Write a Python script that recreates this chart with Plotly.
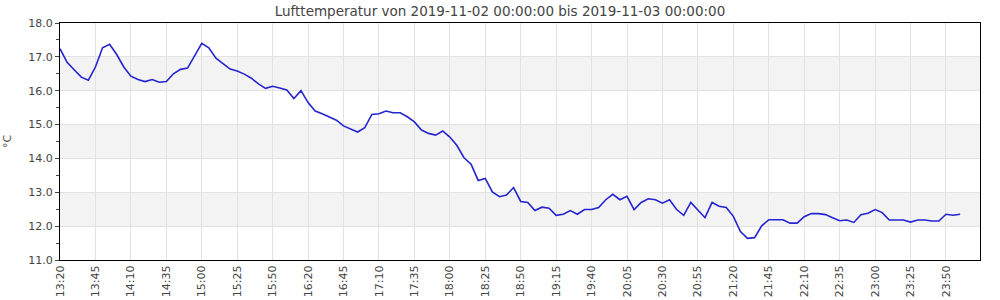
import pandas as pd
import plotly.graph_objects as go

# Time labels (5-minute steps, one timestamp missing between 15:50 and 16:20)
all_times = pd.date_range("2019-11-02 13:20", "2019-11-03 00:00", freq="5min")
times = [t.strftime("%H:%M") for t in all_times if t.strftime("%H:%M") != "16:00"]

temperature = [
    17.24, 16.84, 16.62, 16.40, 16.31, 16.70, 17.27, 17.37, 17.07, 16.70,
    16.43, 16.33, 16.27, 16.33, 16.25, 16.27, 16.50, 16.63, 16.67, 17.02,
    17.40, 17.27, 16.96, 16.80, 16.64, 16.58, 16.49, 16.37, 16.20, 16.07,
    16.13, 16.08, 16.02, 15.77, 16.00, 15.65, 15.40, 15.32, 15.23, 15.13,
    14.96, 14.88, 14.78, 14.91, 15.30, 15.32, 15.40, 15.35, 15.35, 15.23,
    15.08, 14.84, 14.74, 14.69, 14.81, 14.63, 14.38, 14.02, 13.83, 13.35,
    13.41, 13.01, 12.87, 12.92, 13.14, 12.73, 12.70, 12.46, 12.56, 12.53,
    12.32, 12.35, 12.46, 12.35, 12.49, 12.49, 12.55, 12.78, 12.94, 12.78,
    12.88, 12.49, 12.70, 12.81, 12.78, 12.68, 12.78, 12.49, 12.32, 12.70,
    12.47, 12.25, 12.70, 12.59, 12.55, 12.29, 11.84, 11.64, 11.66, 12.01,
    12.19, 12.19, 12.19, 12.09, 12.09, 12.28, 12.37, 12.37, 12.34, 12.25,
    12.16, 12.18, 12.11, 12.34, 12.38, 12.49, 12.40, 12.18, 12.18, 12.18,
    12.12, 12.18, 12.18, 12.15, 12.15, 12.35, 12.32, 12.35,
]

y_ticks = [11, 12, 13, 14, 15, 16, 17, 18]
bands = [(12, 13), (14, 15), (16, 17)]
tick_labels = times[::5]

title = "Lufttemperatur von 2019-11-02 00:00:00 bis 2019-11-03 00:00:00"
font = "DejaVu Sans, Verdana, sans-serif"

fig = go.Figure()
fig.add_trace(go.Scatter(
    x=times, y=temperature, mode="lines",
    line=dict(color="rgb(36,36,208)", width=1.6),
    hoverinfo="x+y", showlegend=False,
))

for y0, y1 in bands:
    fig.add_shape(type="rect", xref="paper", yref="y", x0=0, x1=1, y0=y0, y1=y1,
                  fillcolor="#f3f3f3", line=dict(width=0), layer="below")

fig.update_layout(
    width=1000, height=300,
    margin=dict(l=60, r=20, t=23, b=40, autoexpand=False),
    paper_bgcolor="white", plot_bgcolor="white",
    font=dict(family=font, size=11, color="#444"),
    title=dict(text=title, x=0.5, xanchor="center", y=1 - 11 / 300, yanchor="middle",
               yref="container", font=dict(size=13.5, color="#444", family=font)),
)

fig.update_xaxes(
    type="category", categoryorder="array", categoryarray=times,
    range=[0, 129.8], automargin=False,
    tickmode="array", tickvals=tick_labels, ticktext=tick_labels,
    tickangle=-90, tickfont=dict(size=11, color="#444"),
    showgrid=True, gridcolor="#e2e2e2", gridwidth=1,
    showline=True, linecolor="black", linewidth=1.3, mirror=True,
    ticks="", zeroline=False,
)

fig.update_yaxes(
    range=[11, 18], automargin=False,
    tickmode="array", tickvals=y_ticks, ticktext=[f"{v:.1f}" for v in y_ticks],
    tickfont=dict(size=11, color="#444"),
    showgrid=True, gridcolor="#e2e2e2", gridwidth=1,
    showline=True, linecolor="black", linewidth=1.3, mirror=True,
    ticks="outside", ticklen=4, tickcolor="#444",
    minor=dict(dtick=0.5, ticks="outside", ticklen=3, tickcolor="#444", showgrid=False),
    zeroline=False,
    title=dict(text="°C", font=dict(size=11, color="#444"), standoff=14),
)

fig.write_html("out.html")
